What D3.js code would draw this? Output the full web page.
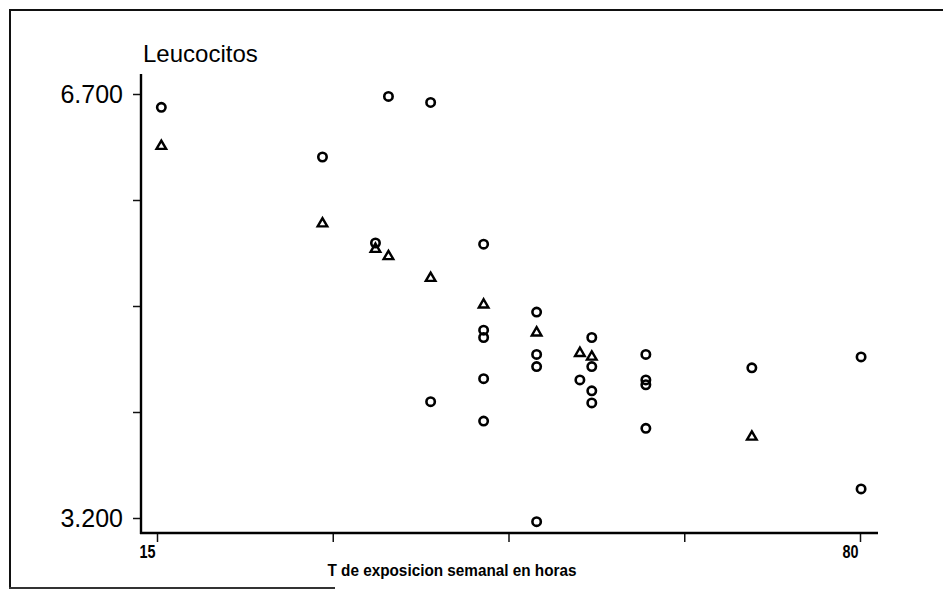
<!DOCTYPE html>
<html>
<head>
<meta charset="utf-8">
<script src="https://cdn.jsdelivr.net/npm/d3@7"></script>
<style>
body { margin: 0; background: #fff; }
svg { display: block; font-family: "Liberation Sans", Arial, sans-serif; }
</style>
</head>
<body>
<div id="chart"></div>
<script>
// ##### data #####
// open circles
var circX = [15.4, 30.3, 35.2, 36.4, 40.3, 40.3, 45.2, 45.2, 45.2, 45.2, 45.2,
	50.1, 50.1, 50.1, 50.1, 54.1, 55.2, 55.2, 55.2, 55.2, 60.2, 60.2, 60.2, 60.2,
	70.0, 80.1, 80.1];
var circY = [6.59, 6.18, 5.47, 6.68, 6.63, 4.16, 5.46, 4.75, 4.69, 4.35, 4.00,
	4.90, 4.55, 4.45, 3.17, 4.34, 4.69, 4.45, 4.25, 4.15, 4.55, 4.34, 4.30, 3.94,
	4.44, 4.53, 3.44];
// triangles
var triX = [15.4, 30.3, 35.2, 36.4, 40.3, 45.2, 50.1, 54.1, 55.2, 70.0];
var triY = [6.27, 5.63, 5.42, 5.36, 5.18, 4.96, 4.73, 4.56, 4.53, 3.87];

var xTicks = [15, 31.25, 47.5, 63.75, 80];
var xTickLabels = ["15", "", "", "", "80"];
var yTicks = [6.7, 5.825, 4.95, 4.075, 3.2];
var yTickLabels = ["6.700", "", "", "", "3.200"];
var yTitle = "Leucocitos";
var xTitle = "T de exposicion semanal en horas";

// ##### layout #####
var W = 943, H = 592;
var axisX = 141, axisY = 533;

var svg = d3.select("#chart").append("svg")
	.attr("width", W)
	.attr("height", H);

// scanned frame
svg.append("line").attr("x1", 9).attr("y1", 10).attr("x2", W).attr("y2", 10)
	.attr("stroke", "#111").attr("stroke-width", 2);
svg.append("line").attr("x1", 10).attr("y1", 9).attr("x2", 10).attr("y2", 589)
	.attr("stroke", "#111").attr("stroke-width", 2);
svg.append("line").attr("x1", 9).attr("y1", 588).attr("x2", 335).attr("y2", 588)
	.attr("stroke", "#333").attr("stroke-width", 2);

var x = d3.scaleLinear().domain([15, 80]).range([157, 860]);
var y = d3.scaleLinear().domain([3.2, 6.7]).range([518, 94]);

// y axis
var gy = svg.append("g")
	.attr("transform", "translate(" + axisX + ",0)")
	.call(d3.axisLeft(y)
		.tickValues(yTicks)
		.tickSize(8)
		.tickPadding(10)
		.tickFormat(function(d, i) { return yTickLabels[i]; }));
gy.select(".domain").remove();
gy.selectAll(".tick line").attr("stroke", "#111").attr("stroke-width", 1.5);
gy.selectAll(".tick text")
	.attr("fill", "#000")
	.style("font-size", "25px");

svg.append("line")
	.attr("x1", axisX).attr("y1", 74).attr("x2", axisX).attr("y2", axisY + 1)
	.attr("stroke", "#000").attr("stroke-width", 2.4);

// x axis
var gx = svg.append("g")
	.attr("transform", "translate(0," + axisY + ")")
	.call(d3.axisBottom(x)
		.tickValues(xTicks)
		.tickSize(9)
		.tickFormat(function(d, i) { return xTickLabels[i]; }));
gx.select(".domain").remove();
gx.selectAll(".tick line").attr("stroke", "#111").attr("stroke-width", 1.5);
gx.selectAll(".tick text")
	.attr("fill", "#000")
	.attr("text-anchor", "end")
	.attr("x", -2)
	.attr("y", 25)
	.attr("dy", null)
	.style("font-size", "18px")
	.style("font-weight", "bold")
	.attr("textLength", function(d, i) { return xTickLabels[i] ? 16 : null; })
	.attr("lengthAdjust", "spacingAndGlyphs");

svg.append("line")
	.attr("x1", axisX - 1).attr("y1", axisY).attr("x2", 878).attr("y2", axisY)
	.attr("stroke", "#000").attr("stroke-width", 2.4);

// titles
svg.append("text")
	.attr("x", 143)
	.attr("y", 62)
	.style("font-size", "24px")
	.attr("fill", "#000")
	.text(yTitle);

svg.append("text")
	.attr("x", 452)
	.attr("y", 576)
	.attr("text-anchor", "middle")
	.attr("textLength", 249)
	.attr("lengthAdjust", "spacingAndGlyphs")
	.style("font-size", "16px")
	.style("font-weight", "bold")
	.attr("fill", "#000")
	.text(xTitle);

// ##### marks #####
var circles = circX.map(function(v, i) { return {x: v, y: circY[i]}; });
var tris = triX.map(function(v, i) { return {x: v, y: triY[i]}; });

svg.append("g").selectAll("circle")
	.data(circles)
	.enter().append("circle")
	.attr("cx", function(d) { return x(d.x); })
	.attr("cy", function(d) { return y(d.y); })
	.attr("r", 4.2)
	.attr("fill", "none")
	.attr("stroke", "#000")
	.attr("stroke-width", 2.6);

svg.append("g").selectAll("path")
	.data(tris)
	.enter().append("path")
	.attr("d", d3.symbol(d3.symbolTriangle, 40))
	.attr("transform", function(d) { return "translate(" + x(d.x) + "," + y(d.y) + ")"; })
	.attr("fill", "none")
	.attr("stroke", "#000")
	.attr("stroke-width", 2.4);
</script>
</body>
</html>
